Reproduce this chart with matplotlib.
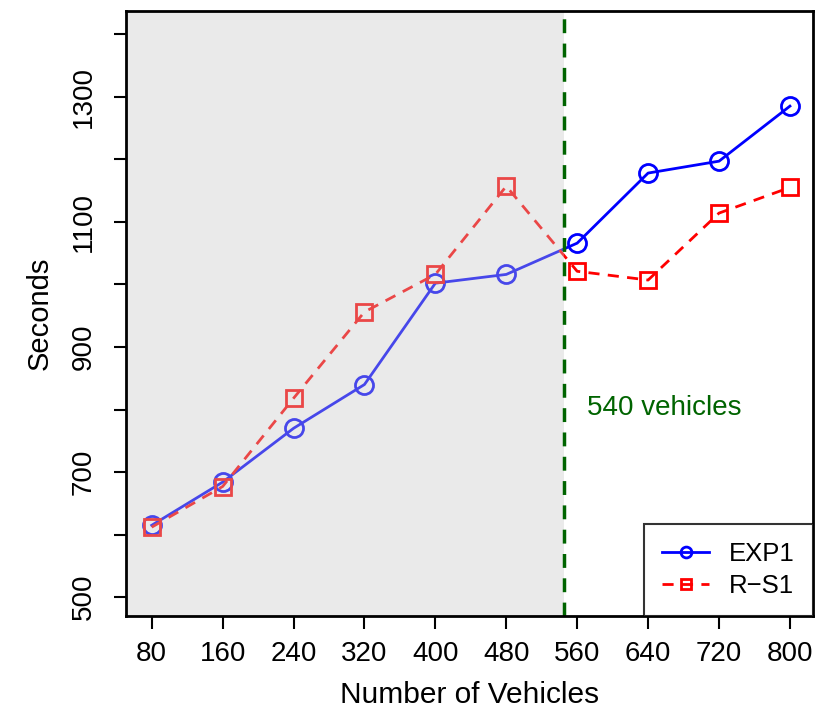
import numpy as np
import matplotlib.pyplot as plt
from matplotlib.patches import Rectangle

plt.rcParams['font.family'] = ['Liberation Sans', 'DejaVu Sans']

vehicles = [80, 160, 240, 320, 400, 480, 560, 640, 720, 800]
exp1 = [615, 684, 770, 840, 1002, 1016, 1066, 1178, 1197, 1285]
rs1 = [612, 677, 818, 956, 1016, 1157, 1021, 1007, 1114, 1155]
split_at = 545
split_label = "540 vehicles"

fig = plt.figure(figsize=(8.16, 7.11), dpi=100)
ax = fig.add_axes([0.1544, 0.1336, 0.8419, 0.8509])

xmin, xmax = 51, 826
ymin, ymax = 470, 1437
ax.set_xlim(xmin, xmax)
ax.set_ylim(ymin, ymax)

ax.plot(vehicles, exp1, color='#0000ff', lw=2, marker='o', ms=13, mfc='none', mew=2,
		label='EXP1', zorder=3)
ax.plot(vehicles, rs1, color='#ff0000', lw=2, ls=(0, (4, 3)), marker='s', ms=12, mfc='none',
		mew=2, label='R\u2212S1', zorder=3)

# translucent grey over the left part, so the lines look paler there
ax.add_patch(Rectangle((xmin, ymin), split_at - xmin, ymax - ymin, facecolor=(0.78, 0.78, 0.78),
					   alpha=0.36, edgecolor='none', zorder=4))
ax.axvline(split_at, color='#006400', lw=2.5, ls=(0, (4, 3)), zorder=5)
ax.text(571, 802, split_label, color='#006400', fontsize=20, va='center', ha='left')

ax.set_xticks(vehicles)
ax.set_yticks(np.arange(500, 1401, 100))
ax.set_yticklabels([str(v) if v % 200 == 100 else '' for v in np.arange(500, 1401, 100)],
				   rotation=90, va='center')
ax.tick_params(axis='both', direction='out', length=9, width=1.5, labelsize=20, pad=9)
ax.tick_params(axis='y', pad=12)
for s in ax.spines.values():
	s.set_linewidth(2)
	s.set_zorder(6)

ax.set_xlabel('Number of Vehicles', fontsize=21.5, labelpad=10)
ax.set_ylabel('Seconds', fontsize=21, labelpad=12)

leg = ax.legend(loc='lower right', fontsize=18.5, frameon=True, fancybox=False, borderaxespad=0,
				handlelength=1.8, borderpad=0.7, labelspacing=0.3, handletextpad=0.8,
				markerscale=0.6)
leg.get_frame().set_edgecolor('black')
leg.get_frame().set_linewidth(1.5)
leg.set_zorder(7)

plt.savefig("out.png", dpi=100)
